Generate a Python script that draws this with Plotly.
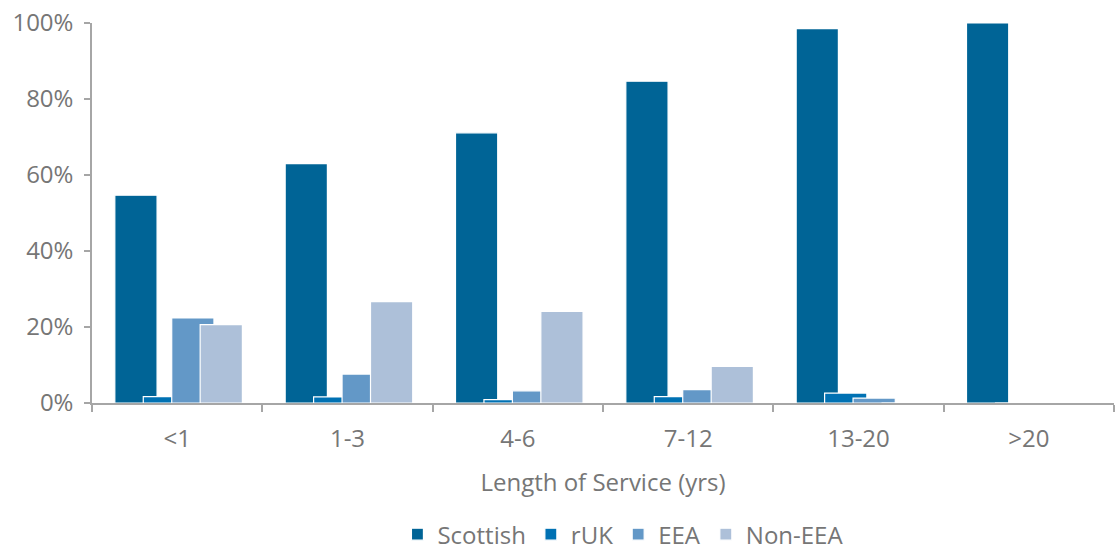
import plotly.graph_objects as go

# Share of staff by origin, per length-of-service band (%)
categories = ["<1", "1-3", "4-6", "7-12", "13-20", ">20"]
scottish = [54.7, 63.0, 71.1, 84.7, 98.5, 100.0]
ruk = [1.7, 1.6, 0.9, 1.7, 2.6, 0.0]
eea = [22.4, 7.6, 3.2, 3.5, 1.3, 0.0]
non_eea = [20.6, 26.7, 24.1, 9.6, 0.0, 0.0]
y_ticks = [0, 20, 40, 60, 80, 100]
y_tick_labels = [f"{v}%" for v in y_ticks]

series = [
    ("Scottish", scottish, "#006496"),
    ("rUK", ruk, "#0071b3"),
    ("EEA", eea, "#6398c7"),
    ("Non-EEA", non_eea, "#adc0d9"),
]

BAR_W = 0.248      # bar width, in category units
STEP = 0.167       # offset between neighbouring series (bars overlap)
START = -0.366     # left edge of first bar relative to category centre

fig = go.Figure()
for i, (name, vals, col) in enumerate(series):
    fig.add_trace(go.Bar(
        name=name, x=categories, y=vals,
        width=BAR_W, offset=START + i * STEP,
        marker=dict(color=col, line=dict(color="white", width=1.2)),
    ))

axis_col = "#a6a6a6"
txt_col = "#767676"
font_family = "Open Sans, Noto Sans, sans-serif"
FS = 24

fig.update_layout(
    barmode="overlay",
    width=1115, height=550,
    margin=dict(l=92, r=1, t=23, b=147, autoexpand=False),
    paper_bgcolor="white", plot_bgcolor="white",
    font=dict(family=font_family, size=FS, color=txt_col),
    showlegend=True,
    legend=dict(orientation="h", x=0.52, xanchor="center",
                yref="container", y=0.028, yanchor="middle",
                font=dict(size=FS, color=txt_col), traceorder="normal",
                itemwidth=30),
    xaxis=dict(
        automargin=False,
        showline=True, linecolor=axis_col, linewidth=1.5,
        ticks="outside", tickson="boundaries", ticklen=7, tickcolor=axis_col,
        tickwidth=1.5, showgrid=False,
        ticklabelstandoff=13,
        title=dict(text="Length of Service (yrs)", standoff=22,
                   font=dict(size=FS, color=txt_col)),
        tickfont=dict(size=FS, color=txt_col),
    ),
    yaxis=dict(
        automargin=False,
        range=[0, 100], tickvals=y_ticks, ticktext=y_tick_labels,
        showline=True, linecolor=axis_col, linewidth=1.5,
        ticks="outside", ticklen=6, tickcolor=axis_col, tickwidth=1.5,
        ticklabelstandoff=6,
        showgrid=False, zeroline=False,
        tickfont=dict(size=FS, color=txt_col),
    ),
)

fig.write_html("out.html")
